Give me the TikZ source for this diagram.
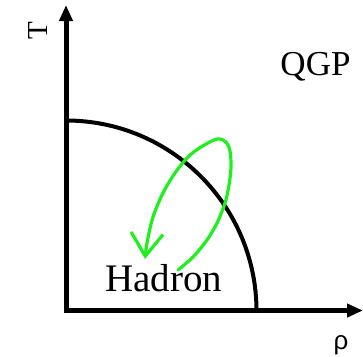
\documentclass[tikz,border=0pt]{standalone}
\usepackage{fontspec}
\setmainfont{Liberation Serif}
\newfontfamily\greekfont{Liberation Sans}
\usepackage{tikz}
\usetikzlibrary{arrows.meta}
\definecolor{loopgreen}{HTML}{1EF01E}

\begin{document}
\begin{tikzpicture}[
  x=1pt,y=-1pt,
  every node/.style={inner sep=0pt,text=black},
  axis/.style={-{Triangle[length=16pt,width=13pt]},line width=5pt},
  phase/.style={line width=4pt},
  cycle/.style={-{Straight Barb[length=23pt,width=32pt]},line width=3.2pt,color=loopgreen,line cap=round,line join=round},
  label/.style={font=\fontsize{#1}{#1}\selectfont,anchor=base}
]
\useasboundingbox (0,0) rectangle (363,356);
\coordinate (origin) at (66,310.5);
\coordinate (ytip) at (66,5);
\coordinate (xtip) at (363,310.5);
\draw[axis] ([yshift=-2pt]origin) -- (ytip);
\draw[axis,line width=4.2pt] ([xshift=-2.5pt]origin) -- (xtip);
% phase boundary
\draw[phase] (66,120.5) coordinate (bstart) arc[start angle=-90,end angle=0,radius=190.5] coordinate (bend);
\node[label=29,rotate=90] (temp) at (47,31) {T};
\node[label=26] (dens) at (341,349) {\greekfont ρ};
\node[label=35] (qgp) at (315.5,75) {QGP};
\node[label=39] (hadron) at (164,291) {Hadron};
% cycle
\draw[cycle] plot[smooth,tension=0.55] coordinates {(178,270) (193,257) (207,240) (217,223) (225,203) (229,185) (231,167) (230,151) (226,142) (217,139) (201,147) (188,157) (175,173) (163,193) (153,217) (147,243) (145,259)};
\end{tikzpicture}
\end{document}
